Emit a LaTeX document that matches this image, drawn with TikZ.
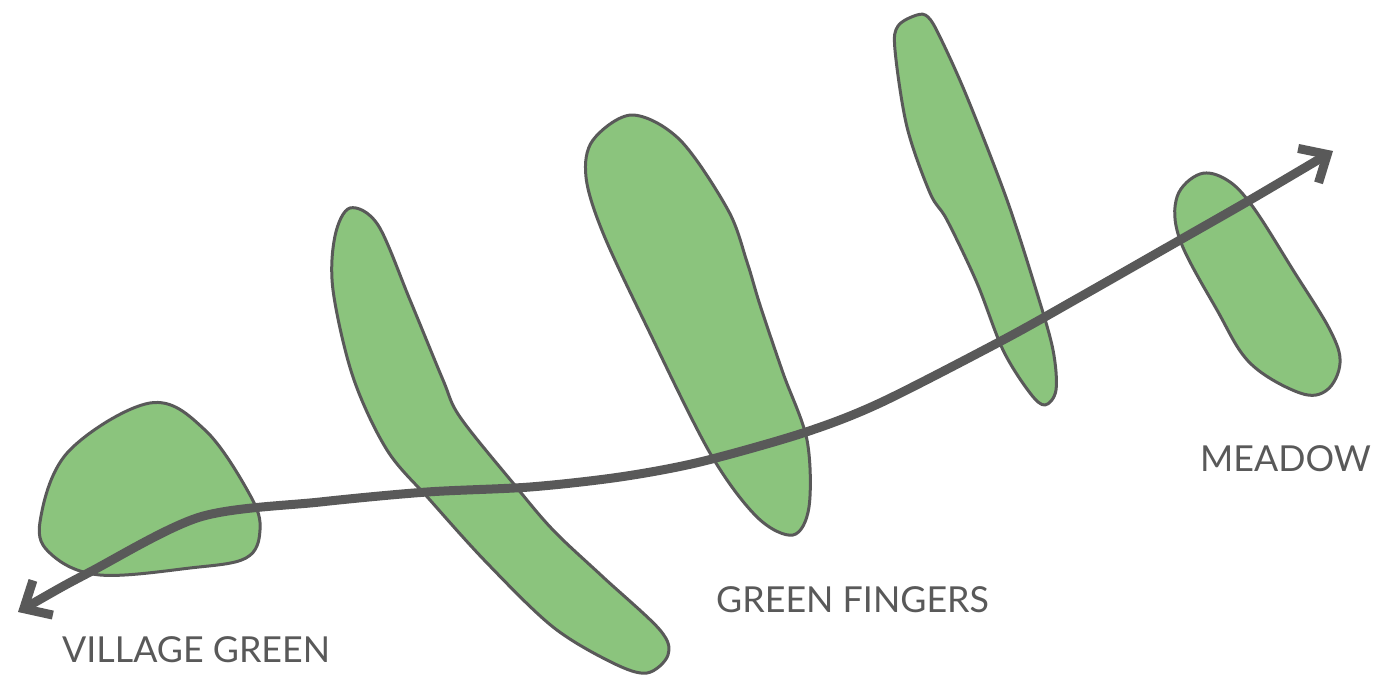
\documentclass[tikz,border=0pt]{standalone}
\usepackage{fontspec}
\setmainfont{Lato}
\usetikzlibrary{arrows.meta}
\definecolor{leaf}{RGB}{139,196,125}
\definecolor{ink}{RGB}{89,89,89}
\tikzset{
  blob/.style={draw=ink, fill=leaf, line width=3pt, line join=round},
  barb/.tip={Straight Barb[length=22pt,width=40pt,line width=9pt]},
  route/.style={draw=ink, line width=9pt, barb-barb},
  lbl/.style={text=ink, anchor=base west, inner sep=0pt, font=\fontsize{35.8}{42}\selectfont}
}
\begin{document}
\begin{tikzpicture}[x=1pt,y=-1pt]
\useasboundingbox (0,0) rectangle (1379,680);
% village green
\path[blob] plot[smooth cycle, tension=0.6] coordinates {(40,522) (68,452) (150,403) (205,430) (250,495) (260,530) (246,558) (190,568) (100,575) (52,555)};
% long finger
\path[blob] plot[smooth cycle, tension=0.55] coordinates {(350,208) (335,236) (333,290) (353,377) (387,450) (430,500) (487,563) (553,627) (613,663) (647,673) (668,655) (660,630) (603,577) (553,530) (513,483) (460,417) (443,380) (410,300) (378,225)};
% big finger
\path[blob] plot[smooth cycle, tension=0.55] coordinates {(632,115) (593,140) (586,177) (603,233) (647,327) (710,453) (757,517) (793,535) (809,507) (807,440) (783,373) (760,305) (747,262) (728,210) (680,140)};
% thin finger
\path[blob] plot[smooth cycle, tension=0.55] coordinates {(917,15) (898,26) (895,50) (907,127) (930,193) (947,220) (977,283) (1003,350) (1030,393) (1045,405) (1056,390) (1053,350) (1037,293) (1007,200) (967,97) (940,37) (928,17)};
% meadow
\path[blob] plot[smooth cycle, tension=0.6] coordinates {(1200,174) (1177,197) (1180,240) (1217,310) (1250,363) (1300,393) (1327,390) (1340,363) (1330,330) (1293,270) (1253,207) (1227,180)};
% route
\coordinate (west) at (18,612);
\coordinate (east) at (1333,151);
\draw[route] plot[smooth, tension=0.5] coordinates {(west) (90,572) (200,517) (320,502) (427,492) (530,487) (620,477) (700,462) (803,433) (880,403) (1003,340) (1080,297) (1180,240) (1250,200) (east)};
% labels
\node[lbl] (vg) at (62,662) {VILLAGE GREEN};
\node[lbl] (gf) at (716,612) {GREEN FINGERS};
\node[lbl] (md) at (1200,471) {MEADOW};
\end{tikzpicture}
\end{document}
